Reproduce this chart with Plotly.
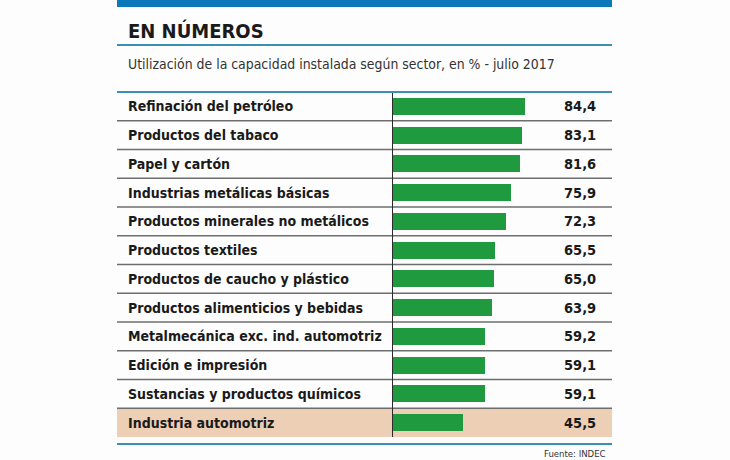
import plotly.graph_objects as go

categories = [
    "Refinación del petróleo",
    "Productos del tabaco",
    "Papel y cartón",
    "Industrias metálicas básicas",
    "Productos minerales no metálicos",
    "Productos textiles",
    "Productos de caucho y plástico",
    "Productos alimenticios y bebidas",
    "Metalmecánica exc. ind. automotriz",
    "Edición e impresión",
    "Sustancias y productos químicos",
    "Industria automotriz",
]
values = [84.4, 83.1, 81.6, 75.9, 72.3, 65.5, 65.0, 63.9, 59.2, 59.1, 59.1, 45.5]
value_labels = [f"{v:.1f}".replace(".", ",") for v in values]
highlight = "Industria automotriz"

title = "EN NÚMEROS"
subtitle = "Utilización de la capacidad instalada según sector, en % - julio 2017"
source = "Fuente: INDEC"

W, H = 730, 460
FONT = "DejaVu Sans Condensed, Roboto, sans-serif"
GREEN = "#1f9a3f"
TEAL = "#3a8fb5"
BLUE = "#0b78b9"
BEIGE = "#eccfb5"

def px(x):
    return x / W

def py(y):
    return 1 - y / H

L, R = 117, 612
TOP, BOT = 92, 437
X0 = 392

fig = go.Figure()
fig.add_trace(go.Bar(
    x=values, y=categories, orientation="h",
    marker=dict(color=GREEN, line=dict(width=0)),
    width=0.59, hoverinfo="skip",
))

shapes = []
hi = categories.index(highlight)
shapes.append(dict(type="rect", xref="paper", yref="y", x0=px(L), x1=px(R),
                   y0=hi - 0.5, y1=hi + 0.5, fillcolor=BEIGE, line=dict(width=0), layer="below"))
for i in range(len(categories) - 1):
    shapes.append(dict(type="line", xref="paper", yref="y", x0=px(L), x1=px(R),
                       y0=i + 0.5, y1=i + 0.5, line=dict(color="#6e6e6e", width=1.5)))
shapes.append(dict(type="line", xref="x", yref="y", x0=0, x1=0, y0=-0.5, y1=len(categories) - 0.5,
                   line=dict(color="#2b2b2b", width=2)))
shapes.append(dict(type="rect", xref="paper", yref="paper", x0=px(L), x1=px(R),
                   y0=py(7), y1=py(0), fillcolor=BLUE, line=dict(width=0)))
for yy in (45, 92, 444):
    shapes.append(dict(type="line", xref="paper", yref="paper", x0=px(L), x1=px(R),
                       y0=py(yy), y1=py(yy), line=dict(color=TEAL, width=2)))

annotations = []
annotations.append(dict(text=f"<b>{title}</b>", x=px(126), y=py(31), xref="paper", yref="paper",
                        xanchor="left", yanchor="middle", showarrow=False,
                        font=dict(family=FONT, size=20, color="#1a1a1a")))
annotations.append(dict(text=subtitle, x=px(126), y=py(64), xref="paper", yref="paper",
                        xanchor="left", yanchor="middle", showarrow=False,
                        font=dict(family=FONT, size=13.9, color="#333333")))
annotations.append(dict(text=source, x=px(608), y=py(453), xref="paper", yref="paper",
                        xanchor="right", yanchor="middle", showarrow=False,
                        font=dict(family=FONT, size=9.5, color="#333333")))
for c, lab in zip(categories, value_labels):
    annotations.append(dict(text=f"<b>{c}</b>", x=px(126), y=c, xref="paper", yref="y",
                            xanchor="left", yanchor="middle", showarrow=False,
                            font=dict(family=FONT, size=14, color="#1a1a1a")))
    annotations.append(dict(text=f"<b>{lab}</b>", x=px(598), y=c, xref="paper", yref="y",
                            xanchor="right", yanchor="middle", showarrow=False,
                            font=dict(family=FONT, size=14.5, color="#1a1a1a")))

fig.update_layout(
    width=W, height=H, margin=dict(l=0, r=0, t=0, b=0),
    paper_bgcolor="#fdfdfd", plot_bgcolor="rgba(0,0,0,0)",
    showlegend=False, bargap=0,
    xaxis=dict(domain=[px(X0), px(R)], range=[0, (R - X0) / 1.57], visible=False, fixedrange=True),
    yaxis=dict(domain=[py(BOT), py(TOP)], range=[len(categories) - 0.5, -0.5],
               categoryorder="array", categoryarray=categories, visible=False, fixedrange=True),
    shapes=shapes, annotations=annotations,
)

fig.write_html("out.html", config={"displayModeBar": False})
